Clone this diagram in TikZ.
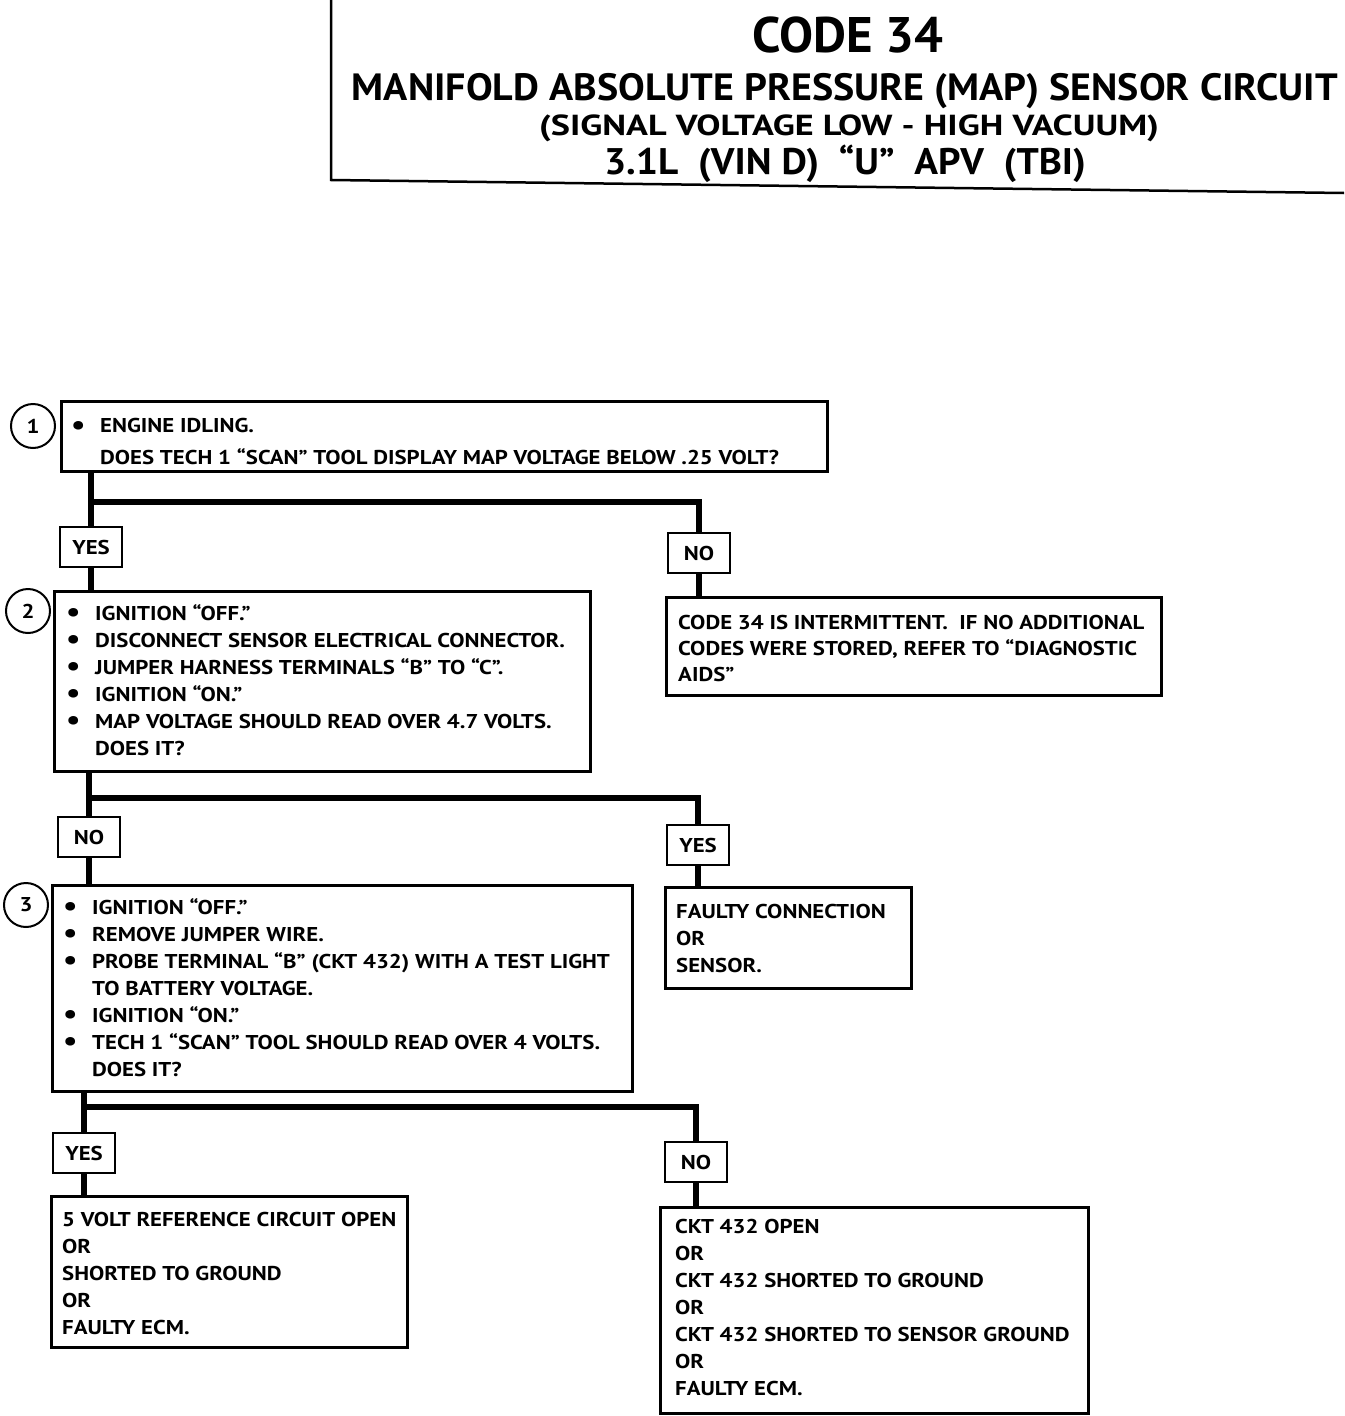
\documentclass[tikz,border=0pt]{standalone}
\usepackage{fontspec}
\setmainfont{PT Sans}
\newfontfamily\bodyfam[FakeStretch=1.14]{PT Sans}
\newcommand\bodyfont{\bodyfam\fontsize{20}{27}\selectfont\bfseries}
\newcommand\bul{\makebox[29pt][l]{\raisebox{-0.08em}{\scalebox{1.4}{\textbullet}}}}
\newcommand\ind{\hspace*{29pt}}
\newcommand\tl[3]{\resizebox{#1}{\height}{\fontsize{#2}{#2}\selectfont\bfseries #3}}
\begin{document}
\begin{tikzpicture}[x=1pt,y=-1pt,
  box/.style={draw,line width=2.5pt,rectangle,inner sep=0,anchor=north west},
  lbl/.style={draw,line width=2.5pt,rectangle,inner sep=0,minimum width=62,minimum height=40,font=\bodyfont},
  conn/.style={line width=6pt},
  txt/.style={anchor=north west,inner sep=0,align=left,font=\bodyfont},
  num/.style={draw,circle,line width=2pt,minimum size=44,inner sep=0,font=\bodyfont},
  ttl/.style={inner sep=0,anchor=center}]
\useasboundingbox (0,0) rectangle (1344,1416);
% title
\draw[line width=2.5pt] (331,0) -- (331,180) -- (1344,193);
\node[ttl] (t1) at (848,35) {\tl{191pt}{50}{CODE 34}};
\node[ttl] (t2) at (845,91) {\tl{986pt}{38}{MANIFOLD ABSOLUTE PRESSURE (MAP) SENSOR CIRCUIT}};
\node[ttl] (t3) at (849,128) {\tl{620pt}{29}{(SIGNAL VOLTAGE LOW - HIGH VACUUM)}};
\node[ttl] (t4) at (845,164) {\tl{482pt}{37}{3.1L\ \ (VIN D)\ \ “U”\ \ APV\ \ (TBI)}};
% boxes
\node[box,minimum width=766,minimum height=70] (b1) at (60,400) {};
\node[box,minimum width=536,minimum height=180] (b2) at (53,590) {};
\node[box,minimum width=495,minimum height=98] (bi) at (665,596) {};
\node[box,minimum width=580,minimum height=206] (b3) at (51,884) {};
\node[box,minimum width=246,minimum height=101] (bf) at (664,886) {};
\node[box,minimum width=356,minimum height=151] (by) at (50,1195) {};
\node[box,minimum width=428,minimum height=206] (bn) at (659,1206) {};
% numbers
\node[num] (n1) at (33,426) {1};
\node[num] (n2) at (28,611) {2};
\node[num] (n3) at (26,905) {3};
% texts
\node[txt] (x1) at (71,418) {\bul ENGINE IDLING.\\[5pt]\ind DOES TECH 1 “SCAN” TOOL DISPLAY MAP VOLTAGE BELOW .25 VOLT?};
\node[txt] (x2) at (66,604) {\bul IGNITION “OFF.”\\\bul DISCONNECT SENSOR ELECTRICAL CONNECTOR.\\\bul JUMPER HARNESS TERMINALS “B” TO “C”.\\\bul IGNITION “ON.”\\\bul MAP VOLTAGE SHOULD READ OVER 4.7 VOLTS.\\\ind DOES IT?};
\node[txt] (xi) at (678,615) {CODE 34 IS INTERMITTENT.\ \ IF NO ADDITIONAL\\[-1pt]CODES WERE STORED, REFER TO “DIAGNOSTIC\\[-1pt]AIDS”};
\node[txt] (x3) at (63,898) {\bul IGNITION “OFF.”\\\bul REMOVE JUMPER WIRE.\\\bul PROBE TERMINAL “B” (CKT 432) WITH A TEST LIGHT\\\ind TO BATTERY VOLTAGE.\\\bul IGNITION “ON.”\\\bul TECH 1 “SCAN” TOOL SHOULD READ OVER 4 VOLTS.\\\ind DOES IT?};
\node[txt] (xf) at (676,904) {FAULTY CONNECTION\\OR\\SENSOR.};
\node[txt] (xy) at (62,1212) {5 VOLT REFERENCE CIRCUIT OPEN\\OR\\SHORTED TO GROUND\\OR\\FAULTY ECM.};
\node[txt] (xn) at (675,1219) {CKT 432 OPEN\\OR\\CKT 432 SHORTED TO GROUND\\OR\\CKT 432 SHORTED TO SENSOR GROUND\\OR\\FAULTY ECM.};
% labels
\node[lbl] (y1) at (91,547) {YES};
\node[lbl] (o1) at (699,553) {NO};
\node[lbl] (o2) at (89,837) {NO};
\node[lbl] (y2) at (698,845) {YES};
\node[lbl] (y3) at (84,1153) {YES};
\node[lbl] (o3) at (696,1162) {NO};
% connectors
\coordinate (j1) at (91,502);
\coordinate (j2) at (89,798);
\coordinate (j3) at (84,1107);
\draw[conn] (y1.north |- b1.south) -- (y1.north);
\draw[conn] (j1) -| (o1.north);
\draw[conn] (y1.south) -- (y1.south |- b2.north);
\draw[conn] (o1.south) -- (o1.south |- bi.north);
\draw[conn] (o2.north |- b2.south) -- (o2.north);
\draw[conn] (j2) -| (y2.north);
\draw[conn] (o2.south) -- (o2.south |- b3.north);
\draw[conn] (y2.south) -- (y2.south |- bf.north);
\draw[conn] (y3.north |- b3.south) -- (y3.north);
\draw[conn] (j3) -| (o3.north);
\draw[conn] (y3.south) -- (y3.south |- by.north);
\draw[conn] (o3.south) -- (o3.south |- bn.north);
\end{tikzpicture}
\end{document}
